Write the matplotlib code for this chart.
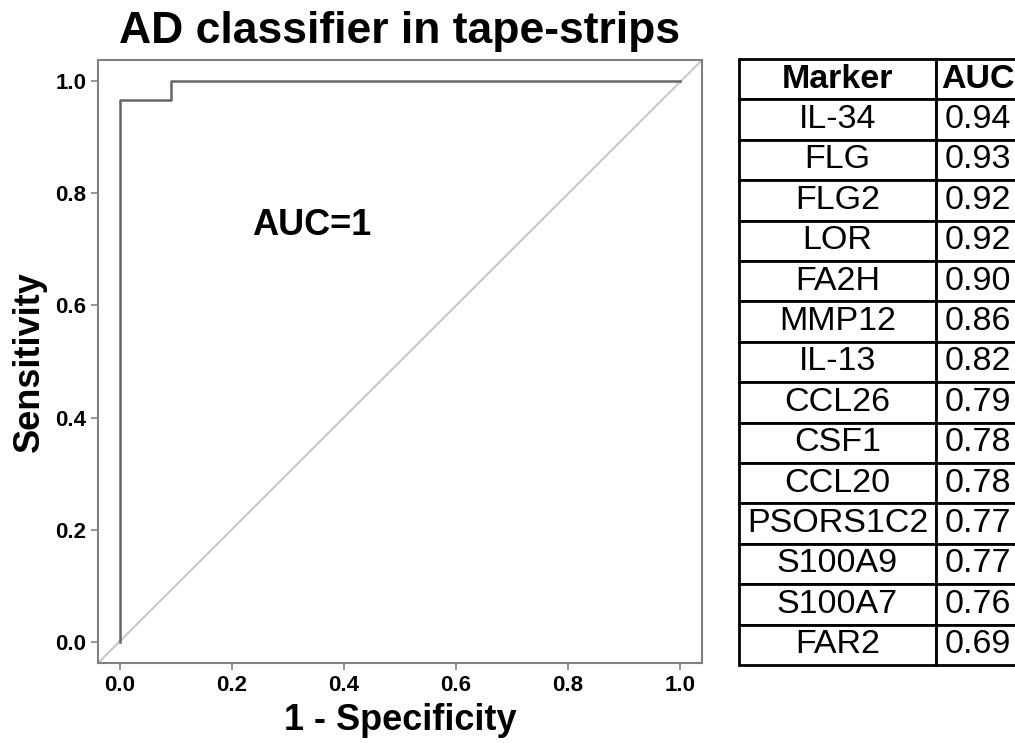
import numpy as np
import matplotlib
matplotlib.use("Agg")
import matplotlib.pyplot as plt

plt.rcParams['font.family'] = ['Liberation Sans', 'DejaVu Sans']

# ROC curve points (1 - specificity, sensitivity)
fpr = [0.0, 0.0, 0.0909, 0.0909, 1.0]
tpr = [0.0, 0.9667, 0.9667, 1.0, 1.0]
auc_text = "AUC=1"

markers = ["IL-34", "FLG", "FLG2", "LOR", "FA2H", "MMP12", "IL-13", "CCL26",
           "CSF1", "CCL20", "PSORS1C2", "S100A9", "S100A7", "FAR2"]
auc_vals = [0.94, 0.93, 0.92, 0.92, 0.90, 0.86, 0.82, 0.79,
            0.78, 0.78, 0.77, 0.77, 0.76, 0.69]

ticks = [0.0, 0.2, 0.4, 0.6, 0.8, 1.0]

fig = plt.figure(figsize=(10.15, 7.43), dpi=100)
ax = fig.add_axes([0.0966, 0.1077, 0.595, 0.8115])

ax.plot([0, 1], [0, 1], transform=ax.transAxes, color='#c8c8c8', lw=1.5)
ax.plot(fpr, tpr, color='#666666', lw=1.8)

ax.set_xlim(-0.039, 1.039)
ax.set_ylim(-0.037, 1.037)
ax.set_xticks(ticks)
ax.set_yticks(ticks)
ax.set_xticklabels([f"{t:.1f}" for t in ticks], fontweight='bold', fontsize=16)
ax.set_yticklabels([f"{t:.1f}" for t in ticks], fontweight='bold', fontsize=16)
ax.tick_params(colors='#808080', labelcolor='black', length=5, width=1.2)
for s in ax.spines.values():
    s.set_color('#808080')
    s.set_linewidth(1.5)

ax.set_xlabel("1 - Specificity", fontsize=26, fontweight='bold', labelpad=5)
ax.set_ylabel("Sensitivity", fontsize=26, fontweight='bold', labelpad=6)
ax.set_title("AD classifier in tape-strips", fontsize=32, fontweight='bold', pad=12)
ax.text(0.236, 0.742, auc_text, fontsize=26, fontweight='bold', ha='left', va='center')

# marker table on the right
tax = fig.add_axes([0.728, 0.105, 0.277, 0.8156])
tax.axis('off')
rows = [[m, f"{v:.2f}"] for m, v in zip(markers, auc_vals)]
tbl = tax.table(cellText=rows, colLabels=["Marker", "AUC"], cellLoc='center',
                colWidths=[0.701, 0.299], bbox=[0, 0, 1, 1])
tbl.auto_set_font_size(False)
tbl.set_fontsize(24.5)
for (r, c), cell in tbl.get_celld().items():
    cell.set_linewidth(2)
    cell.set_edgecolor('black')
    cell.set_clip_on(False)
    if r == 0:
        cell.get_text().set_fontweight('bold')

fig.savefig("out.png", dpi=100)
